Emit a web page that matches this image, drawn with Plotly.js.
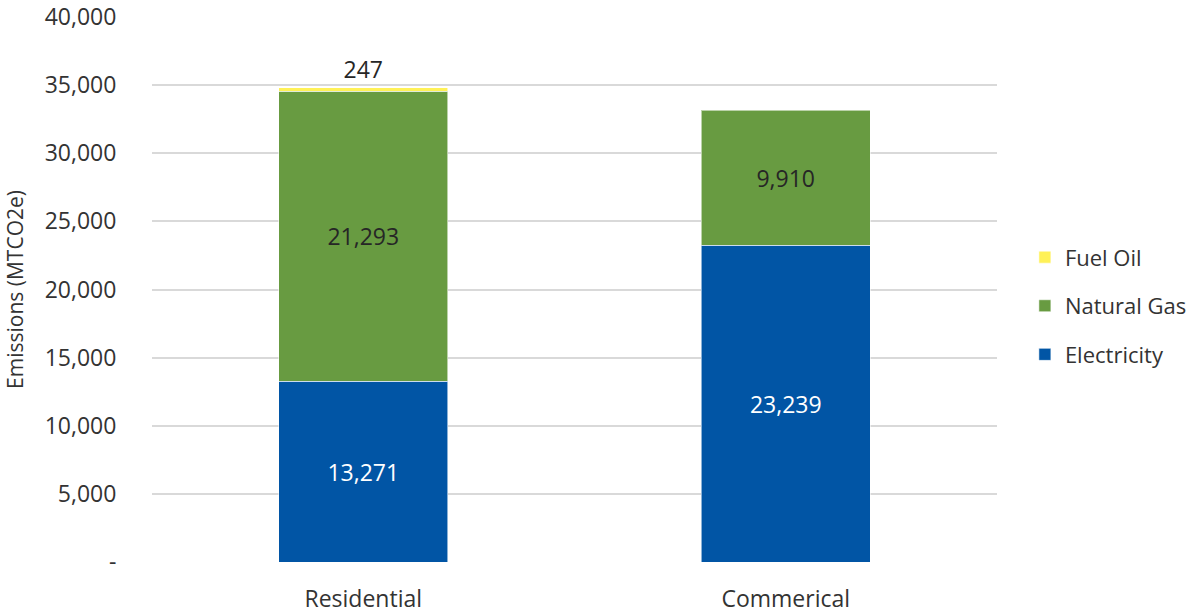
<!DOCTYPE html>
<html>
<head>
<meta charset="utf-8">
<script src="https://cdn.plot.ly/plotly-3.0.1.min.js"></script>
<style>html,body{margin:0;padding:0;background:#fff;}#chart{width:1186px;height:613px;}</style>
</head>
<body>
<div id="chart"></div>
<script>
const categories = ["Residential", "Commerical"];
const electricity = [13271, 23239];
const naturalGas = [21293, 9910];
const fuelOil = [247, null];
const yTickVals = [0, 5000, 10000, 15000, 20000, 25000, 30000, 35000, 40000];
const yTickText = ["-", "5,000", "10,000", "15,000", "20,000", "25,000", "30,000", "35,000", "40,000"];

const FONT = "Open Sans, Noto Sans, sans-serif";
const fmt = v => v == null ? "" : v.toLocaleString("en-US");
const edge = {color: "rgba(255,255,255,0.55)", width: 1};
const FS = 23;

const traces = [
  {type: "bar", name: "Electricity", x: categories, y: electricity,
   text: electricity.map(fmt), textposition: "inside", insidetextanchor: "middle", textangle: 0,
   textfont: {color: "#ffffff", size: FS, family: FONT}, constraintext: "none",
   marker: {color: "#0155A5", line: edge}, legendgroup: "e", legendrank: 3, hoverinfo: "y+name"},
  {type: "bar", name: "Natural Gas", x: categories, y: naturalGas,
   text: naturalGas.map(fmt), textposition: "inside", insidetextanchor: "middle", textangle: 0,
   textfont: {color: "#262626", size: FS, family: FONT}, constraintext: "none",
   marker: {color: "#689B41", line: edge}, legendgroup: "g", legendrank: 2, hoverinfo: "y+name"},
  {type: "bar", name: "Fuel Oil", x: categories, y: fuelOil,
   text: fuelOil.map(fmt), textposition: "outside", textangle: 0,
   textfont: {color: "#262626", size: FS, family: FONT}, constraintext: "none", cliponaxis: false,
   marker: {color: "#FFF157", line: edge}, legendgroup: "f", legendrank: 1, hoverinfo: "y+name"}
];

const layout = {
  width: 1186, height: 613,
  margin: {l: 152, r: 189, t: 17, b: 51, autoexpand: false},
  paper_bgcolor: "#ffffff", plot_bgcolor: "#ffffff",
  font: {family: FONT, size: FS, color: "#333333"},
  barmode: "stack", bargap: 0.6,
  showlegend: true,
  legend: {x: 1.033, xanchor: "left", y: 0.47, yanchor: "middle", traceorder: "grouped",
           tracegroupgap: 17, itemwidth: 30, font: {size: 22, color: "#333333", family: FONT}, bgcolor: "rgba(0,0,0,0)"},
  xaxis: {type: "category", showgrid: false, zeroline: false, showline: false,
          ticks: "outside", ticklen: 16, tickcolor: "rgba(0,0,0,0)",
          tickfont: {size: FS, color: "#333333", family: FONT}},
  yaxis: {range: [0, 40000], tickvals: yTickVals, ticktext: yTickText,
          showgrid: true, gridcolor: "#D9D9D9", gridwidth: 2, zeroline: false, showline: false,
          ticks: "outside", ticklen: 30, tickcolor: "rgba(0,0,0,0)",
          tickfont: {size: FS, color: "#333333", family: FONT},
          title: {text: "Emissions (MTCO2e)", font: {size: 21, color: "#333333", family: FONT}, standoff: 15}},
  uniformtext: {mode: false}
};

Plotly.newPlot("chart", traces, layout, {displayModeBar: false, staticPlot: true});
</script>
</body>
</html>
